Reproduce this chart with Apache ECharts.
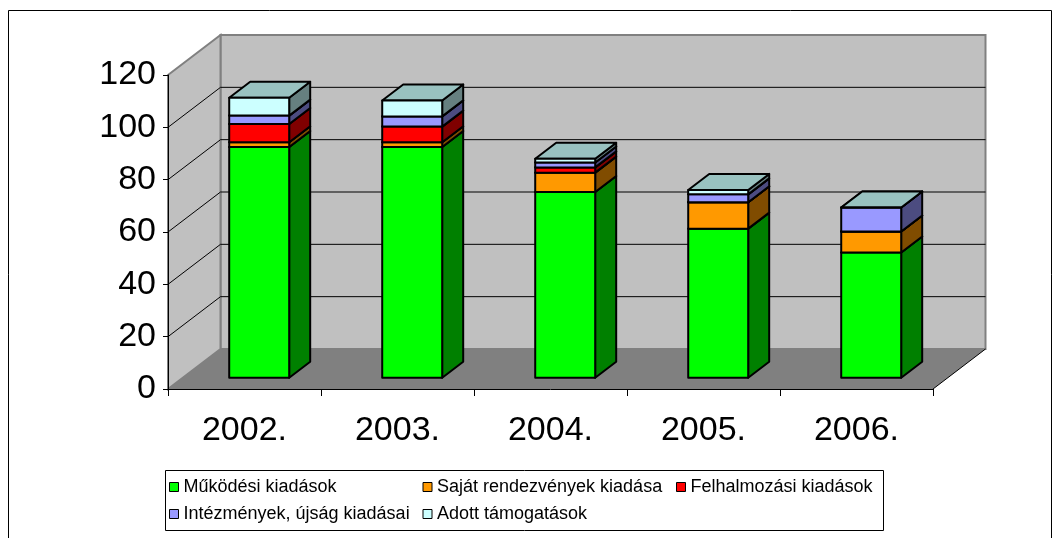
<!DOCTYPE html>
<html>
<head>
<meta charset="utf-8">
<script src="https://cdn.jsdelivr.net/npm/echarts@6/dist/echarts.min.js"></script>
<style>
html,body{margin:0;padding:0;background:#fff;}
#chart{width:1059px;height:538px;}
</style>
</head>
<body>
<div id="chart"></div>
<script>
// ---- data ----
const categories = ['2002.', '2003.', '2004.', '2005.', '2006.'];
const seriesNames = ['Működési kiadások', 'Saját rendezvények kiadása', 'Felhalmozási kiadások', 'Intézmények, újság kiadásai', 'Adott támogatások'];
const mukodesi     = [88.2, 88.2, 71.0, 57.0, 47.9];
const sajat        = [1.8, 1.8, 7.4, 10.1, 8.0];
const felhalmozasi = [7.0, 6.0, 2.0, 0, 0];
const intezmenyek  = [3.2, 3.9, 1.9, 3.0, 9.2];
const adott        = [6.8, 6.1, 1.4, 1.7, 0];
const yTickValues  = [0, 20, 40, 60, 80, 100, 120];

// ---- styling ----
const FONT = 'Liberation Sans, Arial, sans-serif';
const frontColors = ['#00ff00', '#ff9900', '#ff0000', '#9999ff', '#ccffff'];
const sideColors  = ['#008000', '#804c00', '#800000', '#4c4c80', '#668080'];
const topColors   = ['#00bf00', '#bf7300', '#bf0000', '#7373bf', '#99c2c0'];
const DX = 52.5, DY = -40;   // wall depth offset
const F0 = 0.28, BD = 0.4;   // bar front depth fraction, bar depth fraction
const HALF = 0.196;          // half bar width as fraction of band

const valueSets = [mukodesi, sajat, felhalmozasi, intezmenyek, adott];

const chart = echarts.init(document.getElementById('chart'), null, {renderer: 'canvas'});

function wallsRender(params, api) {
  const cs = params.coordSys;
  const L = cs.x, T = cs.y, R = cs.x + cs.width, B = cs.y + cs.height;
  const children = [];
  children.push({type: 'rect', shape: {x: L + DX, y: T + DY, width: R - L, height: B - T},
    style: {fill: '#c0c0c0', stroke: '#808080', lineWidth: 2}});
  children.push({type: 'polygon', shape: {points: [[L, T], [L + DX, T + DY], [L + DX, B + DY], [L, B]]},
    style: {fill: '#c0c0c0', stroke: '#808080', lineWidth: 2}});
  children.push({type: 'polygon', shape: {points: [[L, B], [L + DX, B + DY], [R + DX, B + DY], [R, B]]},
    style: {fill: '#808080', stroke: null}});
  children.push({type: 'line', shape: {x1: R, y1: B, x2: R + DX, y2: B + DY},
    style: {stroke: '#000', lineWidth: 1}});
  yTickValues.forEach(function (v) {
    if (v === 0 || v === yTickValues[yTickValues.length - 1]) return;
    const y = api.coord([0, v])[1];
    children.push({type: 'line', shape: {x1: L + DX, y1: y + DY, x2: R + DX, y2: y + DY},
      style: {stroke: '#000', lineWidth: 1}});
    children.push({type: 'line', shape: {x1: L, y1: y, x2: L + DX, y2: y + DY},
      style: {stroke: '#000', lineWidth: 1}});
  });
  return {type: 'group', children: children};
}

function makeBarRender(k) {
  return function (params, api) {
    const i = api.value(0), lo = api.value(1), hi = api.value(2);
    const pLo = api.coord([i, lo]);
    const pHi = api.coord([i, hi]);
    const bw = api.size([1, 0])[0];
    const hw = bw * HALF;
    const ox = F0 * DX, oy = F0 * DY;
    const xl = pLo[0] + ox - hw, xr = pLo[0] + ox + hw;
    const yb = pLo[1] + oy, yt = pHi[1] + oy;
    const bdx = BD * DX, bdy = BD * DY;
    const st = {stroke: '#000', lineWidth: 2, lineJoin: 'round'};
    return {type: 'group', children: [
      {type: 'polygon', shape: {points: [[xr, yt], [xr + bdx, yt + bdy], [xr + bdx, yb + bdy], [xr, yb]]},
        style: Object.assign({fill: sideColors[k]}, st)},
      {type: 'polygon', shape: {points: [[xl, yt], [xl + bdx, yt + bdy], [xr + bdx, yt + bdy], [xr, yt]]},
        style: Object.assign({fill: topColors[k]}, st)},
      {type: 'rect', shape: {x: xl, y: yt, width: xr - xl, height: yb - yt},
        style: Object.assign({fill: frontColors[k]}, st)}
    ]};
  };
}

const series = [{
  type: 'custom', name: 'walls', silent: true, z: 1,
  renderItem: wallsRender,
  data: [[0, 0]],
  encode: {x: 0, y: 1},
  clip: false
}];

const bases = categories.map(function () { return 0; });
valueSets.forEach(function (vals, k) {
  const data = categories.map(function (c, i) {
    const lo = bases[i];
    const hi = lo + vals[i];
    bases[i] = hi;
    return [i, lo, hi];
  });
  series.push({
    type: 'custom', name: seriesNames[k], z: 3,
    itemStyle: {color: frontColors[k]},
    renderItem: makeBarRender(k),
    encode: {x: 0, y: [1, 2]},
    data: data,
    clip: false
  });
});

const option = {
  backgroundColor: '#fff',
  animation: false,
  grid: {left: 168, right: 126, top: 75, bottom: 149, containLabel: false},
  xAxis: {
    type: 'category', data: categories,
    axisLine: {show: true, lineStyle: {color: '#000', width: 1}},
    axisTick: {show: true, length: 7, lineStyle: {color: '#000'}},
    axisLabel: {fontFamily: FONT, fontSize: 34, color: '#000', margin: 25},
    splitLine: {show: false},
    z: 5
  },
  yAxis: {
    type: 'value', min: 0, max: 120, interval: 20,
    axisLine: {show: true, lineStyle: {color: '#000', width: 1}},
    axisTick: {show: true, length: 5, lineStyle: {color: '#000'}},
    axisLabel: {fontFamily: FONT, fontSize: 34, color: '#000', margin: 12},
    splitLine: {show: false},
    z: 5
  },
  legend: {
    data: seriesNames,
    left: 169, top: 478, width: 760, padding: 0,
    orient: 'horizontal',
    icon: 'rect', itemWidth: 9, itemHeight: 9, itemGap: 9,
    itemStyle: {borderColor: '#000', borderWidth: 1},
    textStyle: {fontFamily: FONT, fontSize: 18, color: '#000', width: 230, lineHeight: 18, overflow: 'none'},
    selectedMode: false
  },
  graphic: [
    {type: 'rect', z: -10, shape: {x: 8.5, y: 10.5, width: 1043, height: 540},
      style: {fill: 'none', stroke: '#000', lineWidth: 1}},
    {type: 'rect', z: -10, shape: {x: 165.5, y: 470.5, width: 718, height: 60},
      style: {fill: 'none', stroke: '#000', lineWidth: 1}}
  ],
  series: series
};
chart.setOption(option);
</script>
</body>
</html>
